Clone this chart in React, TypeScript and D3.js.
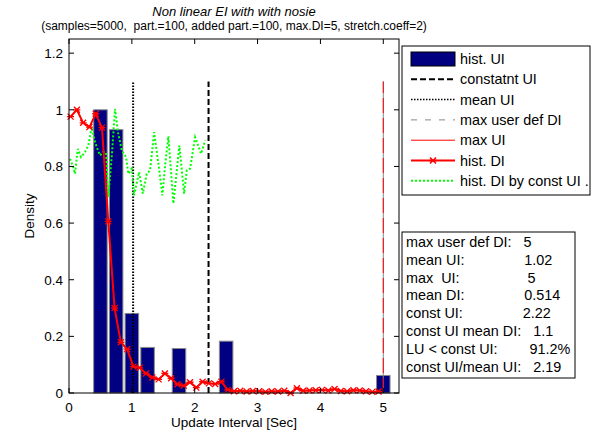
import * as d3 from "d3";

// axis ticks
const xTicks = [0, 1, 2, 3, 4, 5];
const yTicks = [0, 0.2, 0.4, 0.6, 0.8, 1, 1.2];

// histogram of UI (bin centers, density)
const histCenters = [0.5, 0.75, 1.0, 1.25, 1.75, 2.5, 5.0];
const histValues = [1.0, 0.93, 0.281, 0.161, 0.157, 0.183, 0.062];

// histogram of DI (red line)
const diX = [
  0.025, 0.125, 0.225, 0.325, 0.425, 0.525, 0.625, 0.725, 0.825, 0.925,
  1.025, 1.125, 1.225, 1.325, 1.425, 1.525, 1.625, 1.725, 1.825, 1.925,
  2.025, 2.125, 2.225, 2.325, 2.425, 2.525, 2.625, 2.725, 2.825, 2.925,
  3.025, 3.125, 3.225, 3.325, 3.425, 3.525, 3.625, 3.725, 3.825, 3.925,
  4.025, 4.125, 4.225, 4.325, 4.425, 4.525, 4.625, 4.725, 4.825, 4.925,
];
const diY = [
  0.976, 1.0, 0.954, 0.939, 0.986, 0.937, 0.606, 0.3, 0.179, 0.155,
  0.093, 0.089, 0.069, 0.055, 0.048, 0.069, 0.052, 0.031, 0.026, 0.038,
  0.019, 0.04, 0.034, 0.032, 0.04, 0.011, 0.006, 0.008, 0.005, 0.007,
  0.006, 0.004, 0.006, 0.005, 0.008, 0.0, 0.017, 0.008, 0.009, 0.01,
  0.011, 0.009, 0.014, 0.007, 0.006, 0.01, 0.009, 0.006, 0.004, 0.005,
];

// histogram of DI by constant UI (green dotted)
const greenX = [
  0.016, 0.064, 0.096, 0.139, 0.191, 0.255, 0.307, 0.361, 0.398, 0.441,
  0.494, 0.546, 0.589, 0.626, 0.685, 0.732, 0.78, 0.839, 0.908, 0.944,
  0.998, 1.035, 1.115, 1.174, 1.237, 1.29, 1.354, 1.422, 1.486, 1.529,
  1.581, 1.661, 1.715, 1.756, 1.831, 1.874, 1.927, 2.006, 2.102, 2.166,
];
const greenY = [
  0.827, 0.8, 0.774, 0.862, 0.833, 0.851, 0.874, 0.939, 0.9, 0.868,
  0.839, 0.851, 0.85, 0.692, 0.85, 1.003, 0.92, 0.857, 0.833, 0.774,
  0.792, 0.698, 0.78, 0.704, 0.774, 0.786, 0.921, 0.81, 0.698, 0.804,
  0.906, 0.669, 0.786, 0.874, 0.704, 0.786, 0.792, 0.903, 0.845, 0.892,
];

// vertical markers
const meanUI = 1.02;
const constUI = 2.22;
const maxUserDefDI = 5;
const maxUI = 5;
const vLineTop = 1.1;

const legendLabels = [
  "hist. UI",
  "constatnt UI",
  "mean UI",
  "max user def DI",
  "max UI",
  "hist. DI",
  "hist. DI by const UI .",
];

const statLines = [
  "max user def DI:   5",
  "mean UI:               1.02",
  "max  UI:                 5",
  "mean DI:               0.514",
  "const UI:               2.22",
  "const UI mean DI:   1.1",
  "LU < const UI:        91.2%",
  "const UI/mean UI:   2.19",
];

const W = 598;
const H = 433;
const FONT = "Liberation Sans, Arial, sans-serif";

const App = () => {
  const x = d3.scaleLinear().domain([0, 5.25]).range([69, 399]);
  const y = d3.scaleLinear().domain([0, 1.25]).range([393, 39]);
  const barW = 0.215;

  const diPts = diX.map((d, i) => [d, diY[i]] as [number, number]);
  const greenPts = greenX.map((d, i) => [d, greenY[i]] as [number, number]);
  const line = d3
    .line<[number, number]>()
    .x((d) => x(d[0]))
    .y((d) => y(d[1]));

  const star = "M-3,-3L3,3M-3,3L3,-3M-3.5,0L3.5,0";

  // legend layout
  const lgX = 402;
  const lgY = 46;
  const lgRow = 20.3;
  const sample = (i: number) => {
    const cy = lgY + 13 + i * lgRow;
    const x1 = 411;
    const x2 = 455;
    switch (i) {
      case 0:
        return <rect x={x1} y={cy - 7} width={x2 - x1} height={14} fill="#000080" stroke="#000" strokeWidth={1} />;
      case 1:
        return <line x1={x1} x2={x2} y1={cy} y2={cy} stroke="#000" strokeWidth={2} strokeDasharray="6,3" />;
      case 2:
        return <line x1={x1} x2={x2} y1={cy} y2={cy} stroke="#000" strokeWidth={1.5} strokeDasharray="1.5,1.5" />;
      case 3:
        return <line x1={x1} x2={x2} y1={cy} y2={cy} stroke="#888" strokeWidth={1} strokeDasharray="6,8" />;
      case 4:
        return <line x1={x1} x2={x2} y1={cy} y2={cy} stroke="#ff0000" strokeWidth={1} />;
      case 5:
        return (
          <g>
            <line x1={x1} x2={x2} y1={cy} y2={cy} stroke="#ff0000" strokeWidth={2} />
            <path d={star} transform={`translate(${(x1 + x2) / 2},${cy})`} stroke="#ff0000" strokeWidth={1.5} fill="none" />
          </g>
        );
      default:
        return <line x1={x1} x2={x2} y1={cy} y2={cy} stroke="#00ff00" strokeWidth={2} strokeDasharray="2,2" />;
    }
  };

  const [px0, px1] = x.range();
  const [py0, py1] = y.range();

  return (
    <svg width={W} height={H} style={{ position: "absolute", left: 0, top: 0, background: "#fff" }} fontFamily={FONT}>
      <rect width={W} height={H} fill="#fff" />

      {/* titles */}
      <text x={234} y={16} textAnchor="middle" fontSize={13} fontStyle="italic">
        Non linear EI with with nosie
      </text>
      <text x={234} y={30} textAnchor="middle" fontSize={12} style={{ whiteSpace: "pre" }}>
        {"(samples=5000,  part.=100, added part.=100, max.DI=5, stretch.coeff=2)"}
      </text>

      {/* histogram bars */}
      {histCenters.map((c, i) => (
        <rect
          key={i}
          x={x(c - barW / 2)}
          y={y(histValues[i])}
          width={x(c + barW / 2) - x(c - barW / 2)}
          height={y(0) - y(histValues[i])}
          fill="#000080"
          stroke="#8a8a8a"
          strokeWidth={1}
        />
      ))}

      {/* vertical reference lines */}
      <line x1={x(meanUI)} x2={x(meanUI)} y1={y(0)} y2={y(vLineTop)} stroke="#000" strokeWidth={2} strokeDasharray="1.5,1.5" />
      <line x1={x(constUI)} x2={x(constUI)} y1={y(0)} y2={y(vLineTop)} stroke="#000" strokeWidth={2} strokeDasharray="6,3" />
      <line x1={x(maxUserDefDI)} x2={x(maxUserDefDI)} y1={y(0)} y2={y(vLineTop)} stroke="#888" strokeWidth={1} />
      <line x1={x(maxUI)} x2={x(maxUI)} y1={y(0)} y2={y(vLineTop)} stroke="#ff0000" strokeWidth={1} strokeDasharray="15,5" />

      {/* green dotted */}
      <path d={line(greenPts) ?? ""} fill="none" stroke="#00ff00" strokeWidth={2} strokeDasharray="2,2" />

      {/* red DI line with markers */}
      <path d={line(diPts) ?? ""} fill="none" stroke="#ff0000" strokeWidth={2} />
      {diPts.map((p, i) => (
        <path key={i} d={star} transform={`translate(${x(p[0])},${y(p[1])})`} stroke="#ff0000" strokeWidth={1.3} fill="none" />
      ))}

      {/* axes box and ticks */}
      <rect x={px0} y={py1} width={px1 - px0} height={py0 - py1} fill="none" stroke="#000" strokeWidth={1} />
      {xTicks.map((t) => (
        <g key={"x" + t}>
          <line x1={x(t)} x2={x(t)} y1={py0} y2={py0 - 5} stroke="#000" />
          <line x1={x(t)} x2={x(t)} y1={py1} y2={py1 + 5} stroke="#000" />
          <text x={x(t)} y={py0 + 19} textAnchor="middle" fontSize={13.5}>
            {t}
          </text>
        </g>
      ))}
      {yTicks.map((t) => (
        <g key={"y" + t}>
          <line x1={px0} x2={px0 + 5} y1={y(t)} y2={y(t)} stroke="#000" />
          <line x1={px1} x2={px1 - 5} y1={y(t)} y2={y(t)} stroke="#000" />
          <text x={px0 - 6} y={y(t) + 5} textAnchor="end" fontSize={13.5}>
            {t}
          </text>
        </g>
      ))}

      <text x={234} y={427} textAnchor="middle" fontSize={13.5}>
        Update Interval [Sec]
      </text>
      <text transform={`translate(34,216) rotate(-90)`} textAnchor="middle" fontSize={13.5}>
        Density
      </text>

      {/* legend */}
      <rect x={lgX} y={lgY} width={188} height={149} fill="#fff" stroke="#000" strokeWidth={1} />
      {legendLabels.map((l, i) => (
        <g key={l}>
          {sample(i)}
          <text x={460} y={lgY + 13 + i * lgRow + 5} fontSize={14.4}>
            {l}
          </text>
        </g>
      ))}

      {/* stats box */}
      <rect x={402} y={232} width={173} height={146} fill="#fff" stroke="#000" strokeWidth={1} />
      {statLines.map((s, i) => (
        <text key={i} x={406} y={247 + i * 17.8} fontSize={14.4} style={{ whiteSpace: "pre" }}>
          {s}
        </text>
      ))}
    </svg>
  );
};

export default App;
